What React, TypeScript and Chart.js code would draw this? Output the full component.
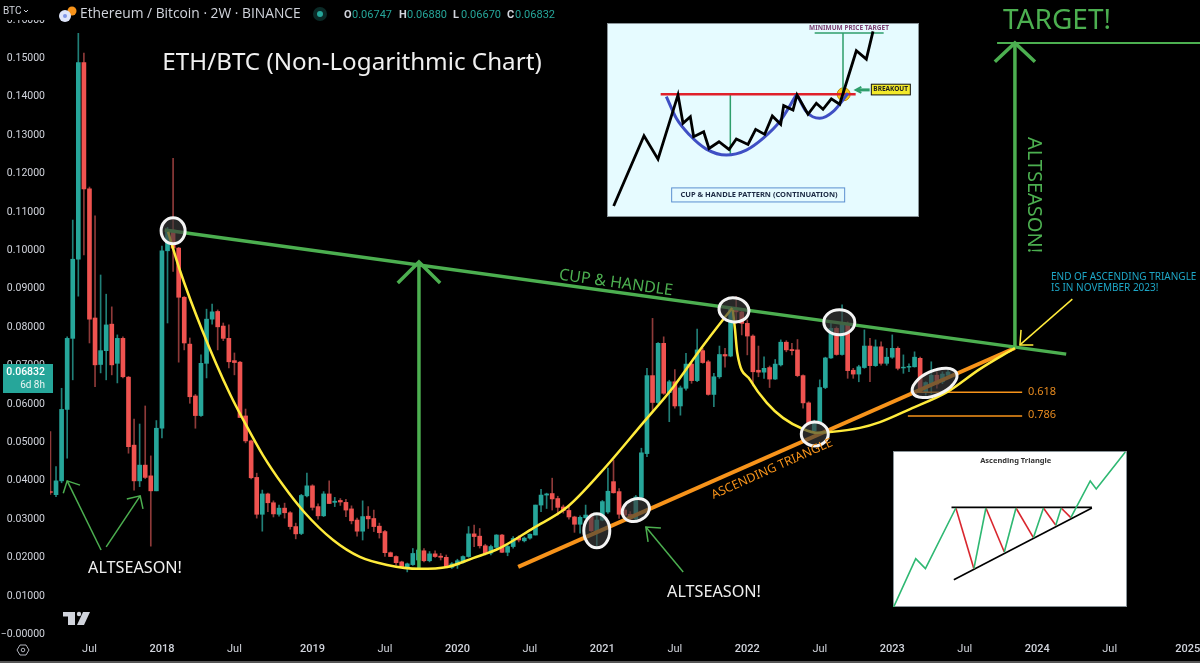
import { useEffect, useRef } from "react"
import { Chart, registerables } from "chart.js"

Chart.register(...registerables)

// 2W candles, one entry per bar, oldest first
const opens = [
  0.0372,
  0.0364, 0.04, 0.0586, 0.0771, 0.0977, 0.1489, 0.116, 0.0824, 0.0703, 0.0739,
  0.0808, 0.0706, 0.0771, 0.067, 0.0493, 0.04, 0.0441, 0.0413, 0.0374, 0.0537,
  0.0999, 0.1053, 0.1006, 0.0878, 0.0756, 0.0621, 0.057, 0.0706, 0.0821, 0.0841,
  0.0803, 0.0771, 0.0713, 0.0709, 0.0569, 0.0504, 0.0409, 0.0313, 0.0366, 0.0343,
  0.0313, 0.0329, 0.0317, 0.0281, 0.0263, 0.0361, 0.0387, 0.0333, 0.0309, 0.0366,
  0.0344, 0.0349, 0.0344, 0.0327, 0.0298, 0.0269, 0.0308, 0.0302, 0.0282, 0.0268,
  0.0213, 0.0203, 0.0189, 0.0174, 0.0182, 0.0194, 0.0218, 0.0192, 0.021, 0.0204,
  0.0201, 0.0175, 0.0181, 0.0188, 0.0203, 0.0262, 0.0256, 0.0231, 0.0212, 0.0227,
  0.0259, 0.0214, 0.0229, 0.0253, 0.0244, 0.0251, 0.0259, 0.0337, 0.0363, 0.0367,
  0.0354, 0.0332, 0.0323, 0.0306, 0.0287, 0.0304, 0.0311, 0.0268, 0.0298, 0.0319,
  0.0398, 0.0372, 0.0324, 0.0313, 0.0301, 0.0357, 0.0471, 0.0674, 0.0604, 0.0758,
  0.063, 0.0658, 0.0595, 0.0641, 0.0704, 0.0661, 0.0739, 0.071, 0.0625, 0.0671,
  0.0729, 0.0725, 0.0849, 0.084, 0.081, 0.0777, 0.0688, 0.0683, 0.0695, 0.0665,
  0.0702, 0.0761, 0.0742, 0.0741, 0.0674, 0.0603, 0.053, 0.0554, 0.0643, 0.072,
  0.0797, 0.0729, 0.081, 0.0688, 0.0678, 0.0695, 0.0751, 0.07, 0.0749, 0.0706,
  0.0722, 0.0745, 0.0694, 0.0696, 0.0697, 0.0719, 0.0632, 0.0653, 0.0675, 0.0658,
  0.06747,
]
const highs = [
  0.0528,
  0.0437, 0.0641, 0.0775, 0.1079, 0.1565, 0.1514, 0.1165, 0.109, 0.0936, 0.0886,
  0.0853, 0.078, 0.0775, 0.0672, 0.0561, 0.0548, 0.0595, 0.0465, 0.0557, 0.1011,
  0.106, 0.124, 0.1008, 0.088, 0.0772, 0.0625, 0.0728, 0.0847, 0.086, 0.0845,
  0.0811, 0.0806, 0.0733, 0.0711, 0.0587, 0.0506, 0.042, 0.0376, 0.0368, 0.0348,
  0.0337, 0.0342, 0.032, 0.029, 0.0365, 0.042, 0.039, 0.034, 0.0372, 0.04,
  0.0357, 0.0354, 0.0352, 0.0335, 0.0303, 0.0348, 0.0333, 0.0324, 0.029, 0.0271,
  0.0215, 0.0205, 0.0191, 0.0186, 0.0224, 0.0224, 0.0224, 0.0216, 0.0218, 0.0211,
  0.0207, 0.0187, 0.0196, 0.0205, 0.0281, 0.0285, 0.0276, 0.0235, 0.0233, 0.026,
  0.0261, 0.0232, 0.0255, 0.0257, 0.0254, 0.0262, 0.0337, 0.0378, 0.0368, 0.0407,
  0.036, 0.0337, 0.0333, 0.0308, 0.0309, 0.0337, 0.0314, 0.0311, 0.0349, 0.0433,
  0.0454, 0.038, 0.033, 0.032, 0.0362, 0.0485, 0.0693, 0.0823, 0.076, 0.0775,
  0.0662, 0.069, 0.0647, 0.0732, 0.0706, 0.0795, 0.0745, 0.0714, 0.068, 0.0751,
  0.0745, 0.0853, 0.088, 0.0849, 0.0819, 0.078, 0.0751, 0.0723, 0.0699, 0.0716,
  0.0767, 0.0765, 0.0758, 0.0768, 0.0676, 0.0606, 0.0558, 0.0663, 0.0722, 0.0814,
  0.0801, 0.0858, 0.0814, 0.0693, 0.0701, 0.0793, 0.0771, 0.0767, 0.0762, 0.0745,
  0.078, 0.0749, 0.0728, 0.0705, 0.0736, 0.0722, 0.0658, 0.071, 0.0684, 0.0684,
  0.0688,
]
const lows = [
  0.0365,
  0.0359, 0.0395, 0.0459, 0.0663, 0.0881, 0.0988, 0.0759, 0.0645, 0.0681, 0.0663,
  0.0676, 0.0655, 0.0668, 0.0472, 0.0376, 0.0385, 0.0406, 0.023, 0.0374, 0.0512,
  0.0811, 0.0945, 0.0709, 0.0741, 0.0602, 0.0537, 0.0568, 0.0668, 0.0808, 0.0741,
  0.0765, 0.0694, 0.0676, 0.0565, 0.0499, 0.0405, 0.0303, 0.0269, 0.032, 0.0306,
  0.0308, 0.0303, 0.0274, 0.0249, 0.026, 0.0358, 0.0324, 0.03, 0.0307, 0.0341,
  0.0333, 0.0336, 0.0307, 0.0288, 0.0256, 0.0246, 0.0276, 0.0268, 0.0251, 0.0203,
  0.0203, 0.018, 0.0175, 0.0163, 0.018, 0.0172, 0.0189, 0.0189, 0.0201, 0.0194,
  0.0175, 0.0172, 0.0172, 0.0186, 0.0201, 0.0229, 0.0225, 0.0207, 0.0207, 0.0225,
  0.0213, 0.0205, 0.0225, 0.0241, 0.0241, 0.0248, 0.0259, 0.032, 0.0328, 0.0324,
  0.0311, 0.0316, 0.03, 0.0266, 0.0264, 0.0302, 0.0268, 0.0229, 0.0296, 0.0315,
  0.0368, 0.0302, 0.0305, 0.0292, 0.0299, 0.0354, 0.0463, 0.058, 0.0601, 0.0625,
  0.0554, 0.0589, 0.0571, 0.0636, 0.0654, 0.0658, 0.0706, 0.0623, 0.0593, 0.0667,
  0.0696, 0.0723, 0.081, 0.078, 0.0728, 0.0647, 0.0671, 0.0667, 0.0643, 0.0664,
  0.0699, 0.0736, 0.0728, 0.0671, 0.0589, 0.0545, 0.0525, 0.0549, 0.064, 0.0719,
  0.0727, 0.0727, 0.0667, 0.0667, 0.0658, 0.0693, 0.0658, 0.0698, 0.0701, 0.0701,
  0.0719, 0.0689, 0.068, 0.0684, 0.0696, 0.0632, 0.0623, 0.0626, 0.0641, 0.0653,
  0.0667,
]
const closes = [
  0.037,
  0.04, 0.0586, 0.0771, 0.0977, 0.1489, 0.116, 0.0821, 0.0702, 0.0739, 0.0806,
  0.0702, 0.0771, 0.0671, 0.0489, 0.04, 0.0441, 0.0409, 0.0374, 0.0537, 0.0999,
  0.1053, 0.1006, 0.0878, 0.0759, 0.0619, 0.057, 0.0706, 0.0821, 0.084, 0.0801,
  0.0771, 0.071, 0.0708, 0.0565, 0.0504, 0.0408, 0.0313, 0.0366, 0.0343, 0.0314,
  0.0329, 0.0317, 0.0281, 0.0262, 0.0362, 0.0387, 0.0331, 0.0309, 0.0366, 0.0341,
  0.0347, 0.0345, 0.0324, 0.0296, 0.0269, 0.0307, 0.0301, 0.0281, 0.0265, 0.0213,
  0.0203, 0.0187, 0.0177, 0.0184, 0.0211, 0.022, 0.0192, 0.021, 0.0203, 0.0201,
  0.0177, 0.0184, 0.0192, 0.0203, 0.0262, 0.0255, 0.0231, 0.021, 0.0229, 0.0259,
  0.0214, 0.0229, 0.025, 0.0246, 0.0251, 0.0261, 0.0337, 0.0363, 0.0366, 0.0353,
  0.0331, 0.0323, 0.0306, 0.0287, 0.0305, 0.0311, 0.027, 0.0298, 0.0346, 0.0373,
  0.0369, 0.0313, 0.0311, 0.0301, 0.0358, 0.0473, 0.0674, 0.0604, 0.0758, 0.0628,
  0.0658, 0.0595, 0.0642, 0.0704, 0.0661, 0.0741, 0.0708, 0.0625, 0.0671, 0.0729,
  0.0725, 0.0849, 0.084, 0.081, 0.0777, 0.0684, 0.0683, 0.0693, 0.0665, 0.0704,
  0.0761, 0.0741, 0.0739, 0.0674, 0.0603, 0.0548, 0.0554, 0.0643, 0.072, 0.0797,
  0.0729, 0.081, 0.0687, 0.0678, 0.0697, 0.0751, 0.07, 0.0749, 0.0706, 0.0722,
  0.0745, 0.0693, 0.0696, 0.0698, 0.0722, 0.0632, 0.0656, 0.0675, 0.0652, 0.0678,
  0.06832,
]

const xTickBars = [7, 20, 33, 47, 60, 73, 86, 99, 112, 125, 138, 151, 164, 177, 190, 204]
const xTickLabels = ["Jul", "2018", "Jul", "2019", "Jul", "2020", "Jul", "2021", "Jul", "2022", "Jul", "2023", "Jul", "2024", "Jul", "2025"]
const yTicks = [0, 0.01, 0.02, 0.03, 0.04, 0.05, 0.06, 0.07, 0.08, 0.09, 0.1, 0.11, 0.12, 0.13, 0.14, 0.15, 0.16]

// drawings on the chart, as [bar, price]
const bigCup = [
  [21.1, 0.1048], [23.2, 0.0949], [27.2, 0.0793], [32.2, 0.0626], [35.1, 0.0545], [38.1, 0.0467], [41.7, 0.0389],
  [45.5, 0.0319], [50.7, 0.0246], [55.5, 0.0202], [60.4, 0.0181], [66.1, 0.0171], [71.2, 0.0176], [75.8, 0.0199],
  [80.6, 0.0225], [86.6, 0.0277], [92.7, 0.0332], [98.6, 0.042], [106.3, 0.0551], [111.7, 0.0644], [116.5, 0.0741],
  [120.6, 0.0819], [122.3, 0.085],
]
const handleCup = [
  [122.4, 0.0845], [122.8, 0.0793], [123.2, 0.0733], [125.5, 0.0663], [128.5, 0.0603], [131.4, 0.0564], [135, 0.0535],
  [137.5, 0.0525], [139.8, 0.0527], [145.2, 0.0538], [148.8, 0.0553], [154.2, 0.0587], [160.8, 0.0631], [166.7, 0.0691],
  [173, 0.0746],
]
const topLine = [[20.5, 0.1053], [182.2, 0.073]]
const triangleLine = [[83.9, 0.0176], [173, 0.0746]]
const cupArrow = [[66.1, 0.0171], [66.1, 0.097]]
const cupArrowHead = [[62.3, 0.0915], [66.1, 0.097], [69.9, 0.0915]]
const targetArrow = [[173, 0.0746], [173, 0.154]]
const targetArrowHead = [[169.4, 0.1491], [173, 0.154], [176.6, 0.1491]]
const targetLine = [[169.8, 0.154], [206.2, 0.154]]
const altArrowA = [[9.08, 0.022], [3, 0.04]]
const altArrowAHead = [[2.3, 0.0368], [3, 0.04], [5.3, 0.0389]]
const altArrowB = [[10, 0.0228], [16.1, 0.0361]]
const altArrowBHead = [[13.7, 0.0353], [16.1, 0.0361], [16.6, 0.0327]]
const altArrowC = [[113.5, 0.0163], [106.8, 0.028]]
const altArrowCHead = [[109.5, 0.0277], [106.8, 0.028], [107.2, 0.0241]]
const endArrow = [[183.3, 0.0873], [173.9, 0.0754]]
const endArrowHead = [[174.1, 0.0793], [173.9, 0.0754], [176.3, 0.0754]]
const fib618 = [[154.2, 0.0631], [174.3, 0.0631]]
const fib786 = [[153.8, 0.0569], [174.3, 0.0569]]

const circleBars = [22, 122.6, 141.5, 137.1, 105, 98, 158.6]
const circlePrices = [0.1051, 0.0845, 0.0813, 0.0522, 0.0324, 0.027, 0.0655]
const circleWidths = [12, 15, 15.5, 13.5, 14, 13, 24]
const circleHeights = [13, 12, 12.5, 12, 11, 17, 12]
const circleTilts = [0, 0.15, 0, 0, -0.4, 0, -0.42]

// cup & handle inset, in the inset's own units
const cupPath = [
  [42, 572], [133, 362], [175, 432], [235, 240], [250, 325], [272, 305], [282, 365], [312, 350], [328, 400], [358, 380],
  [388, 403], [410, 372], [445, 388], [468, 343], [495, 358], [518, 303], [543, 328], [552, 272], [580, 285], [592, 240],
  [625, 298], [650, 265], [670, 283], [695, 252], [720, 268], [770, 108], [800, 133], [820, 50],
]
const cupCurve = [[200, 245], [230, 310], [270, 360], [320, 402], [380, 420], [440, 405], [490, 370], [540, 320], [590, 240]]
const cupHandle = [[595, 245], [620, 290], [660, 310], [700, 290], [745, 235]]
const cupRim = [[183, 238], [768, 238]]
const cupDepth = [[392, 240], [392, 420]]
const cupTargetLeg = [[730, 55], [730, 235]]
const cupTargetTop = [[645, 55], [852, 55]]
const cupBreakout = [[732, 238]]
const cupBreakoutArrow = [[810, 225], [772, 225]]
const cupBreakoutHead = [[785, 216], [768, 225], [785, 234]]

// ascending triangle inset
const triRise = [
  [[42, 500], [108, 355], [137, 385], [228, 203]],
  [[282, 385], [318, 203]],
  [[373, 335], [408, 203]],
  [[460, 292], [490, 203]],
  [[527, 255], [543, 203]],
  [[572, 232], [630, 122], [648, 146], [735, 35]],
]
const triFall = [
  [[228, 203], [282, 385]],
  [[318, 203], [373, 335]],
  [[408, 203], [460, 292]],
  [[490, 203], [527, 255]],
  [[543, 203], [572, 232]],
]
const triTop = [[215, 201], [635, 201]]
const triBase = [[222, 418], [635, 203]]

const UP = "#26a69a"
const DOWN = "#ef5350"
const GREEN = "#4caf50"
const ORANGE = "#f7931a"
const YELLOW = "#ffeb3b"
const FONT = "'Noto Sans', sans-serif"
const TV_FONT = "Roboto, sans-serif"

const pts = (list: number[][]) => list.map(([x, y]) => ({ x, y }))

function lineSet(list: number[][], color: string, width: number, extra: any = {}) {
  return {
    type: "line",
    data: pts(list),
    borderColor: color,
    borderWidth: width,
    pointRadius: 0,
    fill: false,
    tension: 0,
    order: 1,
    ...extra,
  }
}

function put(ctx: any, text: string, x: number, y: number, font: string, color: string, align = "left", angle = 0) {
  ctx.save()
  ctx.translate(x, y)
  ctx.rotate(angle)
  ctx.font = font
  ctx.fillStyle = color
  ctx.textAlign = align
  ctx.textBaseline = "middle"
  ctx.fillText(text, 0, 0)
  ctx.restore()
}

const circlesPlugin = {
  id: "circles",
  afterDatasetsDraw(chart: any) {
    const { ctx, scales } = chart
    circleBars.forEach((bar, i) => {
      ctx.save()
      ctx.beginPath()
      ctx.ellipse(
        scales.x.getPixelForValue(bar),
        scales.y.getPixelForValue(circlePrices[i]),
        circleWidths[i],
        circleHeights[i],
        circleTilts[i],
        0,
        Math.PI * 2
      )
      ctx.fillStyle = "rgba(60, 60, 60, 0.65)"
      ctx.fill()
      ctx.strokeStyle = "#f4f4f4"
      ctx.lineWidth = 3
      ctx.stroke()
      ctx.restore()
    })
  },
}

const notesPlugin = {
  id: "notes",
  afterDraw(chart: any) {
    const { ctx } = chart
    // header strip hides the top of the price axis
    ctx.fillStyle = "#000"
    ctx.fillRect(0, 0, 50, 20)
    put(ctx, "BTC", 3, 11, `10px ${TV_FONT}`, "#d1d4dc")
    ctx.strokeStyle = "#d1d4dc"
    ctx.lineWidth = 1
    ctx.beginPath()
    ctx.moveTo(24, 10)
    ctx.lineTo(26, 12)
    ctx.lineTo(28, 10)
    ctx.stroke()

    ctx.fillStyle = "#f7931a"
    ctx.beginPath()
    ctx.arc(72, 11, 4.5, 0, Math.PI * 2)
    ctx.fill()
    ctx.fillStyle = "#dfe6fb"
    ctx.beginPath()
    ctx.arc(65, 16, 6, 0, Math.PI * 2)
    ctx.fill()
    ctx.fillStyle = "#7f96e8"
    ctx.beginPath()
    ctx.arc(65, 16, 2, 0, Math.PI * 2)
    ctx.fill()
    put(ctx, "Ethereum / Bitcoin · 2W · BINANCE", 80, 14, `13.8px 'Open Sans', sans-serif`, "#d1d4dc")

    ctx.fillStyle = "rgba(38, 166, 154, 0.25)"
    ctx.beginPath()
    ctx.arc(320, 14, 7, 0, Math.PI * 2)
    ctx.fill()
    ctx.fillStyle = UP
    ctx.beginPath()
    ctx.arc(320, 14, 3, 0, Math.PI * 2)
    ctx.fill()

    const ohlc = [["O", "0.06747", 344], ["H", "0.06880", 399], ["L", "0.06670", 453], ["C", "0.06832", 507]]
    ohlc.forEach(([key, value, x]: any) => {
      put(ctx, key, x, 15, `bold 11px ${TV_FONT}`, "#d1d4dc")
      put(ctx, value, x + 8, 15, `11px ${TV_FONT}`, UP)
    })

    // last price tag
    ctx.fillStyle = UP
    ctx.fillRect(3, 364, 50, 29)
    put(ctx, "0.06832", 45, 372, `500 10.5px ${TV_FONT}`, "#fff", "right")
    put(ctx, "6d 8h", 45, 385, `10px ${TV_FONT}`, "#e8f5f3", "right")

    put(ctx, "ETH/BTC (Non-Logarithmic Chart)", 352, 63, `24.2px ${FONT}`, "#f0f0f0", "center")
    put(ctx, "TARGET!", 1057, 21, `28px ${FONT}`, GREEN, "center")
    put(ctx, "CUP & HANDLE", 616, 283, `16px ${FONT}`, GREEN, "center", 0.14)
    put(ctx, "ALTSEASON!", 1034, 195, `20px ${FONT}`, GREEN, "center", Math.PI / 2)
    put(ctx, "ALTSEASON!", 135, 568, `16.2px ${FONT}`, "#f0f0f0", "center")
    put(ctx, "ALTSEASON!", 714, 592, `16.2px ${FONT}`, "#f0f0f0", "center")
    put(ctx, "ASCENDING TRIANGLE", 772, 469, `12.3px ${FONT}`, ORANGE, "center", -0.42)
    put(ctx, "END OF ASCENDING TRIANGLE", 1051, 277, `10px ${FONT}`, "#1ea7c7")
    put(ctx, "IS IN NOVEMBER 2023!", 1051, 288, `10px ${FONT}`, "#1ea7c7")
    put(ctx, "0.618", 1028, 392, `11px ${FONT}`, "#e68a1f")
    put(ctx, "0.786", 1028, 415, `11px ${FONT}`, "#e68a1f")

    // watermark
    ctx.fillStyle = "#d1d4dc"
    ctx.fillRect(63, 612, 12, 4.5)
    ctx.fillRect(68, 612, 7, 13)
    ctx.beginPath()
    ctx.arc(79, 614, 2.2, 0, Math.PI * 2)
    ctx.fill()
    ctx.beginPath()
    ctx.moveTo(83, 612)
    ctx.lineTo(90, 612)
    ctx.lineTo(84, 625)
    ctx.lineTo(77, 625)
    ctx.closePath()
    ctx.fill()

    // settings icon in the corner
    ctx.strokeStyle = "#b2b5be"
    ctx.lineWidth = 1
    ctx.beginPath()
    ctx.moveTo(17, 650)
    ctx.lineTo(20, 645)
    ctx.lineTo(26, 645)
    ctx.lineTo(29, 650)
    ctx.lineTo(26, 655)
    ctx.lineTo(20, 655)
    ctx.closePath()
    ctx.stroke()
    ctx.beginPath()
    ctx.arc(23, 650, 1.8, 0, Math.PI * 2)
    ctx.stroke()

    ctx.fillStyle = "#555"
    ctx.fillRect(0, 661, 1200, 2)
  },
}

function insetPlugin(background: string, drawNotes: (ctx: any, s: any) => void) {
  return {
    id: "insetBack",
    beforeDatasetsDraw(chart: any) {
      const { ctx, width, height } = chart
      ctx.fillStyle = background
      ctx.fillRect(0, 0, width, height)
      ctx.strokeStyle = "#8a9499"
      ctx.lineWidth = 1
      ctx.strokeRect(0.5, 0.5, width - 1, height - 1)
    },
    afterDatasetsDraw(chart: any) {
      drawNotes(chart.ctx, chart.scales)
    },
  }
}

function insetOptions(xMin: number, xMax: number, yMin: number, yMax: number) {
  return {
    responsive: false,
    animation: false,
    events: [],
    layout: { padding: 0, autoPadding: false },
    scales: {
      x: { type: "linear", display: false, min: xMin, max: xMax },
      y: { type: "linear", display: false, min: yMin, max: yMax, reverse: true },
    },
    plugins: { legend: { display: false }, tooltip: { enabled: false } },
  }
}

function drawCupNotes(ctx: any, s: any) {
  const X = (v: number) => s.x.getPixelForValue(v)
  const Y = (v: number) => s.y.getPixelForValue(v)
  put(ctx, "MINIMUM PRICE TARGET", X(748), Y(40), `bold 6.5px ${FONT}`, "#7b3f72", "center")

  ctx.fillStyle = "#f2e92a"
  ctx.fillRect(X(815), Y(208), X(932) - X(815), Y(240) - Y(208))
  ctx.strokeStyle = "#111"
  ctx.lineWidth = 1
  ctx.strokeRect(X(815), Y(208), X(932) - X(815), Y(240) - Y(208))
  put(ctx, "BREAKOUT", X(873), Y(224), `bold 6.5px ${FONT}`, "#222", "center")

  ctx.strokeStyle = "#5b8fd0"
  ctx.strokeRect(X(216), Y(518), X(735) - X(216), Y(560) - Y(518))
  put(ctx, "CUP & HANDLE PATTERN (CONTINUATION)", X(478), Y(540), `bold 7.5px ${FONT}`, "#1c2a44", "center")
}

function drawTriNotes(ctx: any, s: any) {
  put(ctx, "Ascending Triangle", s.x.getPixelForValue(407), s.y.getPixelForValue(63), `bold 7.5px ${FONT}`, "#333", "center")
}

export default function App() {
  const mainRef = useRef<HTMLCanvasElement>(null)
  const cupRef = useRef<HTMLCanvasElement>(null)
  const triRef = useRef<HTMLCanvasElement>(null)

  useEffect(() => {
    if (!mainRef.current || !cupRef.current || !triRef.current) return
    document.body.style.margin = "0"
    document.body.style.background = "#000"

    const isUp = opens.map((o, i) => closes[i] >= o)

    const main = new Chart(mainRef.current, {
      type: "bar",
      data: {
        datasets: [
          {
            data: highs.map((h, i) => ({ x: i, y: [lows[i], h] })),
            backgroundColor: isUp.map((up) => (up ? "#217f77" : "#8e3a39")),
            grouped: false,
            barThickness: 1,
            maxBarThickness: 1,
            barPercentage: 1,
            categoryPercentage: 1,
            order: 11,
          },
          {
            data: opens.map((o, i) => ({ x: i, y: [o, closes[i]] })),
            backgroundColor: isUp.map((up) => (up ? UP : DOWN)),
            grouped: false,
            barThickness: 4,
            maxBarThickness: 4,
            barPercentage: 1,
            categoryPercentage: 1,
            order: 10,
          },
          lineSet(bigCup, YELLOW, 2.5, { cubicInterpolationMode: "monotone" }),
          lineSet(handleCup, YELLOW, 2.5, { cubicInterpolationMode: "monotone" }),
          lineSet(topLine, GREEN, 3.5),
          lineSet(triangleLine, ORANGE, 4),
          lineSet(cupArrow, GREEN, 3.5),
          lineSet(cupArrowHead, GREEN, 3.5),
          lineSet(targetArrow, GREEN, 3.5),
          lineSet(targetArrowHead, GREEN, 3.5),
          lineSet(targetLine, GREEN, 2),
          lineSet(altArrowA, GREEN, 1.5),
          lineSet(altArrowAHead, GREEN, 1.5),
          lineSet(altArrowB, GREEN, 1.5),
          lineSet(altArrowBHead, GREEN, 1.5),
          lineSet(altArrowC, GREEN, 1.5),
          lineSet(altArrowCHead, GREEN, 1.5),
          lineSet(endArrow, YELLOW, 1.5),
          lineSet(endArrowHead, YELLOW, 1.5),
          lineSet(fib618, ORANGE, 1.5),
          lineSet(fib786, ORANGE, 1.5),
        ],
      } as any,
      options: {
        responsive: false,
        animation: false,
        events: [],
        layout: { padding: 0, autoPadding: false },
        scales: {
          x: {
            type: "linear",
            offset: false,
            min: -0.08,
            max: 206.2,
            grid: { display: false, drawTicks: false },
            border: { display: false },
            afterFit: (axis: any) => {
              axis.height = 23
              axis.paddingLeft = 0
              axis.paddingRight = 0
            },
            afterBuildTicks: (axis: any) => {
              axis.ticks = xTickBars.map((value) => ({ value }))
            },
            ticks: {
              autoSkip: false,
              maxRotation: 0,
              padding: 3,
              color: "#d1d4dc",
              font: (c: any) => ({
                family: TV_FONT,
                size: 11,
                weight: c.index % 2 === 1 ? "500" : "normal",
              }),
              callback: (_v: any, i: number) => xTickLabels[i],
            },
          },
          y: {
            type: "linear",
            min: -0.00143,
            max: 0.16519,
            grid: { display: false, drawTicks: false },
            border: { display: false },
            afterFit: (axis: any) => {
              axis.width = 50
              axis.paddingTop = 0
              axis.paddingBottom = 0
            },
            afterBuildTicks: (axis: any) => {
              axis.ticks = yTicks.map((value) => ({ value }))
            },
            ticks: {
              autoSkip: false,
              padding: 5,
              color: "#d1d4dc",
              font: { family: TV_FONT, size: 10.5 },
              callback: (v: any) => (v === 0 ? "\u22120.00000" : Number(v).toFixed(5)),
            },
          },
        },
        plugins: { legend: { display: false }, tooltip: { enabled: false } },
      } as any,
      plugins: [circlesPlugin, notesPlugin],
    })

    const cup = new Chart(cupRef.current, {
      type: "line",
      data: {
        datasets: [
          lineSet(cupBreakout, "#c08a00", 1, {
            pointRadius: 6.5,
            pointBackgroundColor: "#f5c518",
            pointBorderColor: "#c08a00",
            order: 6,
          }),
          lineSet(cupRim, "#e0202a", 2.5, { order: 3 }),
          lineSet(cupDepth, "#2e9e6b", 1.5, { order: 5 }),
          lineSet(cupTargetLeg, "#2e9e6b", 1.5, { order: 5 }),
          lineSet(cupTargetTop, "#2e9e6b", 1.5, { order: 5 }),
          lineSet(cupBreakoutArrow, "#2e9e6b", 3, { order: 5 }),
          lineSet(cupBreakoutHead, "#2e9e6b", 2, { order: 5 }),
          lineSet(cupCurve, "#3f4fc4", 3, { cubicInterpolationMode: "monotone", order: 2 }),
          lineSet(cupHandle, "#3f4fc4", 3, { cubicInterpolationMode: "monotone", order: 2 }),
          lineSet(cupPath, "#000", 2.8, { order: 1 }),
        ],
      } as any,
      options: insetOptions(22, 958, 25, 605) as any,
      plugins: [insetPlugin("#e6fbff", drawCupNotes)],
    })

    const tri = new Chart(triRef.current, {
      type: "line",
      data: {
        datasets: [
          ...triRise.map((leg) => lineSet(leg, "#2eb872", 1.6)),
          ...triFall.map((leg) => lineSet(leg, "#d9262e", 1.6)),
          lineSet(triTop, "#000", 1.6),
          lineSet(triBase, "#000", 1.6),
        ],
      } as any,
      options: insetOptions(40, 740, 32, 500) as any,
      plugins: [insetPlugin("#fff", drawTriNotes)],
    })

    return () => {
      main.destroy()
      cup.destroy()
      tri.destroy()
    }
  }, [])

  return (
    <div style={{ position: "relative", width: 1200, height: 663, background: "#000", overflow: "hidden" }}>
      <canvas ref={mainRef} width={1200} height={663} style={{ position: "absolute", left: 0, top: 0 }} />
      <canvas ref={cupRef} width={312} height={194} style={{ position: "absolute", left: 607, top: 23 }} />
      <canvas ref={triRef} width={234} height={156} style={{ position: "absolute", left: 893, top: 451 }} />
    </div>
  )
}
